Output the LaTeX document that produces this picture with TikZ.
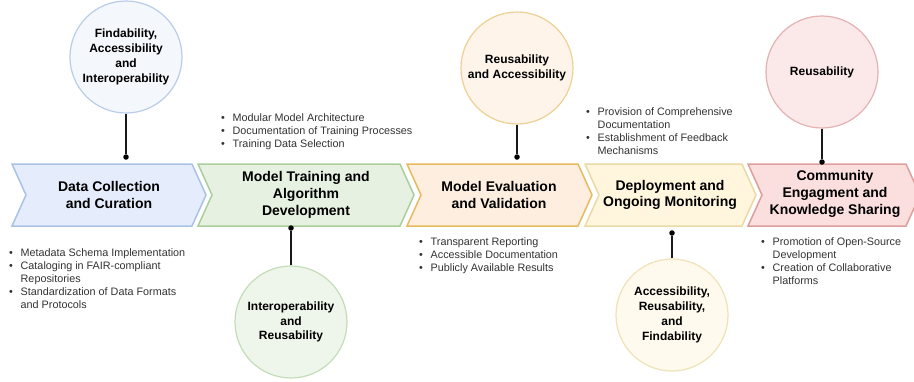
\documentclass[tikz,border=0pt]{standalone}
\usepackage{fontspec}
\setmainfont{Liberation Sans}
\definecolor{bluF}{HTML}{E5EDFC}
\definecolor{bluD}{HTML}{A9C2E6}
\definecolor{bluCF}{HTML}{F4F7FC}
\definecolor{bluCD}{HTML}{BACDE8}
\definecolor{grnF}{HTML}{E6F1E2}
\definecolor{grnD}{HTML}{AACF9B}
\definecolor{grnCF}{HTML}{EEF6EB}
\definecolor{grnCD}{HTML}{C4DDB9}
\definecolor{orgF}{HTML}{FDEEDF}
\definecolor{orgD}{HTML}{E8BA5E}
\definecolor{orgCF}{HTML}{FEF4EA}
\definecolor{orgCD}{HTML}{EDD191}
\definecolor{ylwF}{HTML}{FFF6DD}
\definecolor{ylwD}{HTML}{EBDAA5}
\definecolor{ylwCF}{HTML}{FFFAED}
\definecolor{ylwCD}{HTML}{EFE2B6}
\definecolor{redF}{HTML}{FADFDE}
\definecolor{redD}{HTML}{DC9F9D}
\definecolor{redCF}{HTML}{FBE9E9}
\definecolor{redCD}{HTML}{E3B2B1}
\definecolor{bultext}{HTML}{333333}
\newcommand\mybul{\makebox[11.5pt][l]{•}}
\newcommand\mycont{\hspace*{11.5pt}}
\begin{document}
\begin{tikzpicture}[x=1pt,y=-1pt,
  chev/.style={line width=1.5pt, line join=miter},
  fcirc/.style={circle, minimum size=112pt, inner sep=0pt, line width=1.2pt, align=center,
    font=\fontsize{12}{14.8}\selectfont\bfseries},
  title/.style={align=center, inner sep=0pt, font=\fontsize{14}{16.8}\selectfont\bfseries},
  blist/.style={align=left, anchor=north west, inner sep=0pt, text=bultext,
    font=\fontsize{10.8}{13}\selectfont},
  dotn/.style={circle, fill=black, inner sep=0pt, minimum size=5.5pt},
  link/.style={line width=1.5pt, draw=black!90}]
\clip (0,0) rectangle (914,381);
\fill[white] (0,0) rectangle (914,381);

% chevrons
\draw[chev, fill=bluF, draw=bluD] (12,164) -- (192,164) -- (206,195) -- (192,226) -- (12,226) -- (26,195) -- cycle;
\draw[chev, fill=grnF, draw=grnD] (198,164) -- (400,164) -- (414,195) -- (400,226) -- (198,226) -- (212,195) -- cycle;
\draw[chev, fill=orgF, draw=orgD] (407,164) -- (578,164) -- (592,195) -- (578,226) -- (407,226) -- (421,195) -- cycle;
\draw[chev, fill=ylwF, draw=ylwD] (585,164) -- (742,164) -- (756,195) -- (742,226) -- (585,226) -- (599,195) -- cycle;
\draw[chev, fill=redF, draw=redD] (748,164) -- (906,164) -- (920,195) -- (906,226) -- (748,226) -- (762,195) -- cycle;

% titles
\node[title] (t1) at (109,195) {Data Collection\\and Curation};
\node[title] (t2) at (306,195) {Model Training and\\Algorithm\\Development};
\node[title] (t3) at (499,195) {Model Evaluation\\and Validation};
\node[title] (t4) at (670,195) {Deployment and\\Ongoing Monitoring};
\node[title] (t5) at (835,194) {Community\\Engagment and\\Knowledge Sharing};

% circles
\node[fcirc, fill=bluCF, draw=bluCD] (c1) at (126,57) {Findability,\\Accessibility\\and\\Interoperability};
\node[fcirc, fill=grnCF, draw=grnCD] (c2) at (291,322) {Interoperability\\and\\Reusability};
\node[fcirc, fill=orgCF, draw=orgCD] (c3) at (517,68) {Reusability\\and Accessibility};
\node[fcirc, fill=ylwCF, draw=ylwCD] (c4) at (672,315) {Accessibility,\\Reusability,\\and\\Findability};
\node[fcirc, fill=redCF, draw=redCD] (c5) at (822,72) {Reusability};

% dots
\node[dotn] (d1) at (126,157) {};
\node[dotn] (d2) at (291,228) {};
\node[dotn] (d3) at (517,157) {};
\node[dotn] (d4) at (672,233) {};
\node[dotn] (d5) at (822,162) {};

% links
\draw[link] (c1) -- (d1);
\draw[link] (c2) -- (d2);
\draw[link] (c3) -- (d3);
\draw[link] (c4) -- (d4);
\draw[link] (c5) -- (d5);

% bullet lists
\node[blist] (l1) at (221,113) {\mybul Modular Model Architecture\\\mybul Documentation of Training Processes\\\mybul Training Data Selection};
\node[blist] (l2) at (9,248) {\mybul Metadata Schema Implementation\\\mybul Cataloging in FAIR-compliant\\\mycont Repositories\\\mybul Standardization of Data Formats\\\mycont and Protocols};
\node[blist] (l3) at (419,237) {\mybul Transparent Reporting\\\mybul Accessible Documentation\\\mybul Publicly Available Results};
\node[blist] (l4) at (586,107) {\mybul Provision of Comprehensive\\\mycont Documentation\\\mybul Establishment of Feedback\\\mycont Mechanisms};
\node[blist] (l5) at (761,237) {\mybul Promotion of Open-Source\\\mycont Development\\\mybul Creation of Collaborative\\\mycont Platforms};
\end{tikzpicture}
\end{document}
